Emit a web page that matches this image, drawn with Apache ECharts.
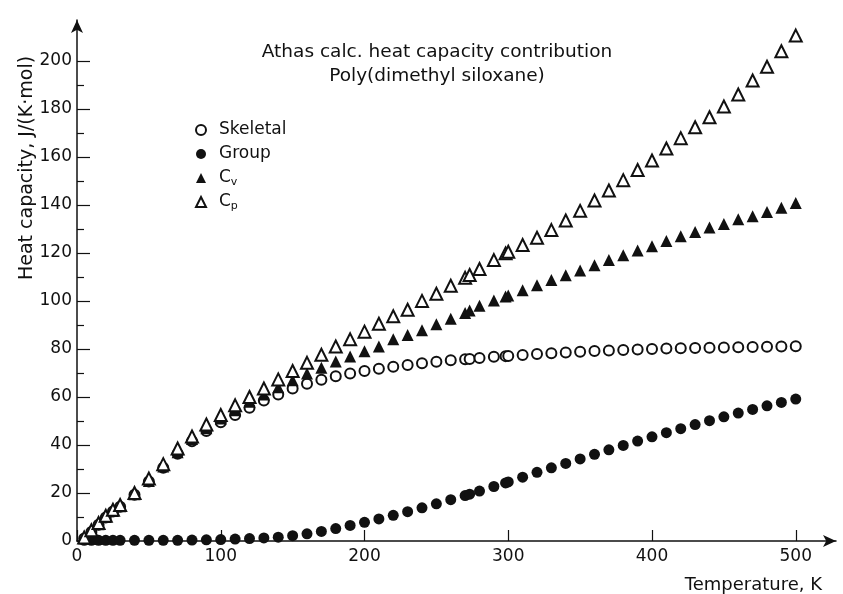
<!DOCTYPE html>
<html>
<head>
<meta charset="utf-8">
<script src="https://cdn.jsdelivr.net/npm/echarts@6/dist/echarts.min.js"></script>
<style>html,body{margin:0;padding:0;background:#fff}#c{width:843px;height:594px}</style>
</head>
<body>
<div id="c"></div>
<script>
const temperature = [5,10,15,20,25,30,40,50,60,70,80,90,100,110,120,130,140,150,160,170,180,190,200,210,220,230,240,250,260,270,273.15,280,290,298.15,300,310,320,330,340,350,360,370,380,390,400,410,420,430,440,450,460,470,480,490,500];
const skeletal = [1,3.8,6.8,9.8,12.3,14.3,19.3,24.8,30.5,36.3,41.5,45.8,49.5,52.5,55.5,58.5,61,63.5,65.5,67.2,68.6,69.8,70.8,71.7,72.6,73.3,74,74.7,75.3,75.7,75.8,76.2,76.7,77,77.1,77.5,77.9,78.2,78.5,78.8,79.1,79.3,79.6,79.8,80,80.2,80.3,80.4,80.5,80.6,80.7,80.8,80.9,81,81.1];
const group = [0.3,0.3,0.3,0.3,0.3,0.3,0.3,0.3,0.3,0.3,0.4,0.5,0.6,0.8,1.0,1.3,1.6,2.2,3.0,4.0,5.2,6.5,7.8,9.2,10.7,12.2,13.8,15.5,17.2,18.9,19.5,20.8,22.7,24.2,24.6,26.6,28.6,30.5,32.3,34.2,36.1,38,39.8,41.6,43.4,45.1,46.8,48.5,50.1,51.7,53.3,54.8,56.3,57.7,59.1];
const cv = [1,4,7,10,12.5,14.5,19.5,25,31,37,42.5,47,51,54.5,58,61,64,67,69.8,72.2,74.8,76.8,79,81,84,85.8,87.8,90.3,92.6,95,96,98,100.2,101.8,102.3,104.4,106.5,108.7,110.7,112.7,114.8,117,119,121,122.8,125,126.9,128.7,130.6,132,134,135.3,137,138.8,140.8];
const cp = [1.5,4.5,7.5,10.5,13,15,20,26,32,38.5,43.5,48.5,52.5,56.5,60,63.5,67.3,70.8,74.2,77.6,81,84,87.2,90.5,93.6,96.3,100,103,106.3,109.6,110.8,113.3,117,119.8,120.5,123.3,126.3,129.5,133.5,137.5,141.8,146,150.3,154.5,158.5,163.5,167.8,172.3,176.5,181,186,191.8,197.5,204,210.5];
const xTicks = [0,100,200,300,400,500];
const yTicks = [0,20,40,60,80,100,120,140,160,180,200];
const yMinorTicks = [10,30,50,70,90,110,130,150,170,190];

const FONT = 'DejaVu Sans';
const pairs = arr => temperature.map((t, i) => [t, arr[i]]);

const chart = echarts.init(document.getElementById('c'), null, {renderer: 'canvas'});
const axisLineStyle = {color: '#111', width: 1.5};
chart.setOption({
  backgroundColor: '#fff',
  animation: false,
  title: {
    text: 'Athas calc. heat capacity contribution\nPoly(dimethyl siloxane)',
    left: 437, top: 40, textAlign: 'center', padding: 0,
    textStyle: {fontFamily: FONT, fontSize: 18.5, fontWeight: 'normal', color: '#111', lineHeight: 24}
  },
  legend: {
    orient: 'vertical', left: 190, top: 115,
    itemWidth: 10, itemHeight: 10, itemGap: 4,
    data: ['Skeletal', 'Group', 'Cv', 'Cp'],
    formatter: name => name === 'Cv' ? 'C{sub|v}' : name === 'Cp' ? 'C{sub|p}' : name,
    textStyle: {
      fontFamily: FONT, fontSize: 17, color: '#111', lineHeight: 20, padding: [0, 0, 0, 8],
      rich: {sub: {fontFamily: FONT, fontSize: 11, color: '#111', lineHeight: 10, verticalAlign: 'bottom'}}
    }
  },
  grid: {left: 77, right: 7, top: 20, bottom: 53, containLabel: false, outerBoundsMode: 'none'},
  xAxis: {
    type: 'value', min: 0, max: 528,
    axisLine: {show: true, lineStyle: axisLineStyle, symbol: ['none', 'arrow'], symbolSize: [9, 13]},
    axisTick: {show: true, inside: true, length: 11, lineStyle: {color: '#111', width: 1.2}, customValues: xTicks},
    axisLabel: {fontFamily: FONT, fontSize: 17, color: '#111', margin: 7, customValues: xTicks},
    splitLine: {show: false}
  },
  yAxis: [{
    type: 'value', min: 0, max: 217,
    axisLine: {show: true, lineStyle: axisLineStyle, symbol: ['none', 'arrow'], symbolSize: [9, 13]},
    axisTick: {show: true, inside: true, length: 13, lineStyle: {color: '#111', width: 1.2}, customValues: yTicks},
    axisLabel: {fontFamily: FONT, fontSize: 17, color: '#111', margin: 5, customValues: yTicks},
    splitLine: {show: false}
  }, {
    type: 'value', min: 0, max: 217, position: 'left', offset: 0,
    axisLine: {show: false},
    axisTick: {show: true, inside: true, length: 7, lineStyle: {color: '#111', width: 1.2}, customValues: yMinorTicks},
    axisLabel: {show: false},
    splitLine: {show: false}
  }],
  graphic: [{
    type: 'text', x: 27, y: 168, rotation: Math.PI / 2,
    style: {text: 'Heat capacity, J/(K·mol)', fontFamily: FONT, fontSize: 19, fill: '#111', align: 'center', verticalAlign: 'middle'}
  }, {
    type: 'text', x: 822, y: 585,
    style: {text: 'Temperature, K', fontFamily: FONT, fontSize: 18, fill: '#111', align: 'right', verticalAlign: 'middle'}
  }],
  series: [
    {name: 'Skeletal', type: 'scatter', data: pairs(skeletal), symbol: 'emptyCircle', symbolSize: 10,
      itemStyle: {color: '#111', borderWidth: 1.7, opacity: 1}},
    {name: 'Group', type: 'scatter', data: pairs(group), symbol: 'circle', symbolSize: 11,
      itemStyle: {color: '#111', opacity: 1}},
    {name: 'Cv', type: 'scatter', data: pairs(cv), symbol: 'triangle', symbolSize: 12,
      itemStyle: {color: '#111', opacity: 1}},
    {name: 'Cp', type: 'scatter', data: pairs(cp), symbol: 'emptyTriangle', symbolSize: 12,
      itemStyle: {color: '#111', borderWidth: 1.7, opacity: 1}}
  ]
});
</script>
</body>
</html>
